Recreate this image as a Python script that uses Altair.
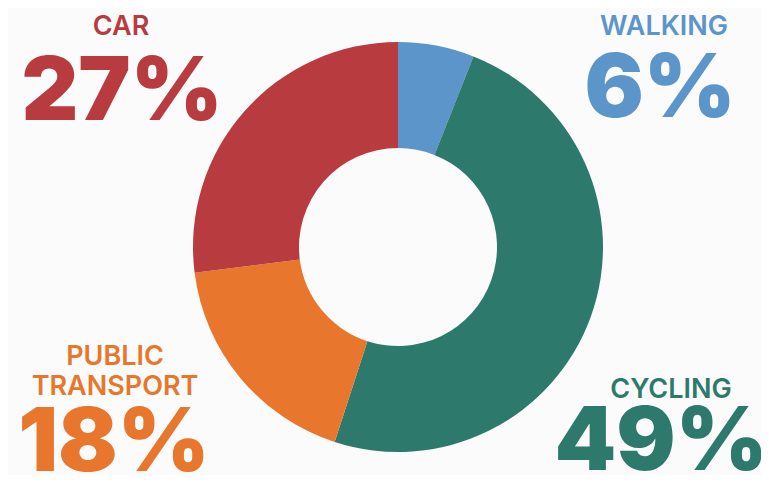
import altair as alt
import pandas as pd

categories = ["Walking", "Cycling", "Public transport", "Car"]
shares = [6, 49, 18, 27]
labels = ["WALKING", "CYCLING", "PUBLIC\nTRANSPORT", "CAR"]
colors = ["#5b95c9", "#2d7a6c", "#e8772d", "#b83b40"]

df = pd.DataFrame({
    "mode": categories,
    "share": shares,
    "order": list(range(len(categories))),
    "label": labels,
    "pct": [f"{s}%" for s in shares],
})

color_scale = alt.Scale(domain=categories, range=colors)
base = alt.Chart(df)

donut = base.mark_arc(outerRadius=205, innerRadius=99, strokeWidth=0).encode(
    theta=alt.Theta("share:Q", stack=True),
    order=alt.Order("order:Q"),
    color=alt.Color("mode:N", scale=color_scale, legend=None),
    x=alt.value(390),
    y=alt.value(239),
)

# annotation layout: (label x, label y, pct x, pct y)
layout = {
    "Car": (113, 27, 114, 112),
    "Walking": (656, 27, 652, 109),
    "Public transport": (107, 357, 106, 463),
    "Cycling": (663, 390, 653, 462),
}

layers = [donut]
for mode, (lx, ly, px, py) in layout.items():
    sub = base.transform_filter(alt.datum.mode == mode)
    layers.append(
        sub.mark_text(font="Inter", fontSize=27, fontWeight=600, align="center",
                      baseline="alphabetic", lineBreak="\n", lineHeight=30).encode(
            text="label:N",
            color=alt.Color("mode:N", scale=color_scale, legend=None),
            x=alt.value(lx), y=alt.value(ly),
        )
    )
    layers.append(
        sub.mark_text(font="Inter", fontSize=88, fontWeight=900, align="center",
                      baseline="alphabetic").encode(
            text="pct:N",
            color=alt.Color("mode:N", scale=color_scale, legend=None),
            x=alt.value(px), y=alt.value(py),
        )
    )

chart = alt.layer(*layers).properties(
    width=753, height=467,
    autosize=alt.AutoSizeParams(type="fit", contains="padding"),
    padding=0,
    background="#fbfbfb",
).configure_view(stroke=None)

chart.save("out.html", embed_options={"renderer": "svg", "actions": False})
